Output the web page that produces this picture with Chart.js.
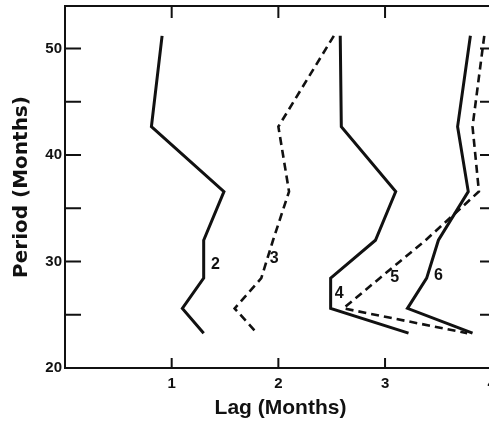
<!DOCTYPE html>
<html>
<head>
<meta charset="utf-8">
<title>Lag vs Period</title>
<script src="https://cdn.jsdelivr.net/npm/chart.js@4/dist/chart.umd.min.js"></script>
<style>
  html, body { margin: 0; padding: 0; background: #fff; overflow: hidden; }
  #wrap { width: 489px; height: 431px; overflow: hidden; }
  canvas { display: block; }
</style>
</head>
<body>
<div id="wrap"><canvas id="lagChart" width="510" height="431"></canvas></div>
<script>
// periods sampled (months) = 256 / k, k = 5..11
const PERIODS = [51.2, 42.67, 36.57, 32, 28.44, 25.6, 23.27];

// lag (months) at each period, one array per curve
const LAG_2 = [0.91, 0.81, 1.49, 1.30, 1.30, 1.10, 1.30];
const LAG_3 = [2.52, 2.00, 2.10, 1.95, 1.84, 1.59, 1.80];
const LAG_4 = [2.58, 2.59, 3.10, 2.91, 2.49, 2.49, 3.22];
const LAG_5 = [3.93, 3.82, 3.88, 3.38, 2.95, 2.61, 3.77];
const LAG_6 = [3.80, 3.68, 3.78, 3.50, 3.39, 3.21, 3.82];

const CURVE_NAMES = ["2", "3", "4", "5", "6"];
const CURVE_LAGS = [LAG_2, LAG_3, LAG_4, LAG_5, LAG_6];
const CURVE_DASHED = [false, true, false, true, false];

// curve number tags (lag, period)
const TAG_X = [1.41, 1.96, 2.57, 3.09, 3.50];
const TAG_Y = [29.75, 30.3, 27.0, 28.5, 28.7];

const X_TICKS = [1, 2, 3, 4];
const Y_TICKS = [20, 30, 40, 50];
const Y_MARKS = [25, 30, 35, 40, 45, 50];

const INK = "#111";

const datasets = CURVE_NAMES.map((name, i) => ({
  label: name,
  data: PERIODS.map((p, j) => ({ x: CURVE_LAGS[i][j], y: p })),
  showLine: true,
  borderColor: INK,
  borderWidth: CURVE_DASHED[i] ? 2.6 : 3,
  borderDash: CURVE_DASHED[i] ? [8, 5] : [],
  pointRadius: 0,
  tension: 0,
  fill: false,
}));

// box round the plot with short tick marks pointing inward
const frameTicks = {
  id: "frameTicks",
  afterDraw(chart) {
    const { ctx, chartArea: a, scales: { x, y } } = chart;
    ctx.save();
    ctx.strokeStyle = INK;
    ctx.lineWidth = 2;
    ctx.strokeRect(a.left, a.top, a.right - a.left, a.bottom - a.top);
    ctx.beginPath();
    Y_MARKS.forEach((v) => {
      const py = y.getPixelForValue(v);
      ctx.moveTo(a.left, py); ctx.lineTo(a.left + 16, py);
      ctx.moveTo(a.right, py); ctx.lineTo(a.right - 16, py);
    });
    X_TICKS.forEach((v) => {
      const px = x.getPixelForValue(v);
      ctx.moveTo(px, a.top); ctx.lineTo(px, a.top + 12);
      ctx.moveTo(px, a.bottom); ctx.lineTo(px, a.bottom - 10);
    });
    ctx.stroke();
    ctx.restore();
  },
};

// curve numbers next to each line
const curveTags = {
  id: "curveTags",
  afterDatasetsDraw(chart) {
    const { ctx, scales: { x, y } } = chart;
    ctx.save();
    ctx.fillStyle = INK;
    ctx.font = "bold 16px 'Liberation Sans', Arial, sans-serif";
    ctx.textAlign = "center";
    ctx.textBaseline = "middle";
    CURVE_NAMES.forEach((name, i) => {
      ctx.fillText(name, x.getPixelForValue(TAG_X[i]), y.getPixelForValue(TAG_Y[i]));
    });
    ctx.restore();
  },
};

const tickFont = { family: "'Liberation Sans', Arial, sans-serif", size: 15, weight: "bold" };

new Chart(document.getElementById("lagChart"), {
  type: "scatter",
  data: { datasets },
  options: {
    responsive: false,
    animation: false,
    layout: { padding: { top: 6, right: 14, left: 0, bottom: 0 } },
    plugins: { legend: { display: false }, tooltip: { enabled: false } },
    scales: {
      x: {
        type: "linear",
        min: 0,
        max: 4.04,
        afterBuildTicks: (s) => { s.ticks = X_TICKS.map((v) => ({ value: v })); },
        afterFit: (s) => { s.height = 63; s.paddingLeft = 0; s.paddingRight = 0; },
        grid: { display: false, drawTicks: false },
        border: { display: false },
        ticks: { color: INK, font: tickFont, padding: 7, maxRotation: 0 },
        title: {
          display: true,
          text: "Lag (Months)",
          color: INK,
          font: { family: "'Liberation Sans', Arial, sans-serif", size: 21, weight: "bold" },
          padding: { top: 0, bottom: 10 },
        },
      },
      y: {
        type: "linear",
        min: 20,
        max: 54,
        afterBuildTicks: (s) => { s.ticks = Y_TICKS.map((v) => ({ value: v })); },
        afterFit: (s) => { s.width = 65; s.paddingTop = 0; s.paddingBottom = 0; },
        grid: { display: false, drawTicks: false },
        border: { display: false },
        ticks: { color: INK, font: tickFont, padding: 3 },
        title: {
          display: true,
          text: "Period (Months)",
          color: INK,
          font: { family: "'DejaVu Sans', sans-serif", size: 20, weight: "bold" },
          padding: { top: 10, bottom: 0 },
        },
      },
    },
  },
  plugins: [frameTicks, curveTags],
});
</script>
</body>
</html>
